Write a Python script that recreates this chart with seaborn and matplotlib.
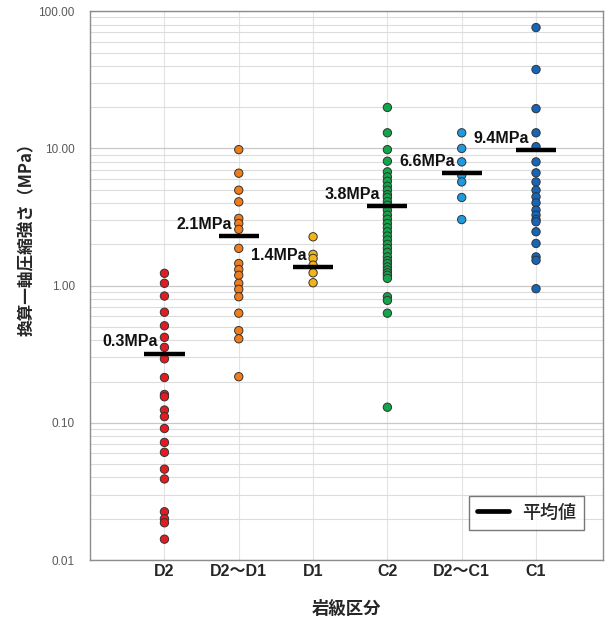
import matplotlib
matplotlib.use("Agg")
import matplotlib.pyplot as plt
import seaborn as sns
import pandas as pd
from matplotlib.lines import Line2D
from matplotlib.ticker import FixedLocator, LogLocator, NullFormatter

# ---- data ----
categories = ["D2", "D2～D1", "D1", "C2", "D2～C1", "C1"]
vals_D2 = [1.23, 1.04, 0.84, 0.64, 0.51, 0.42, 0.355, 0.293, 0.214, 0.161, 0.155,
           0.124, 0.111, 0.091, 0.072, 0.061, 0.046, 0.039, 0.0225, 0.020, 0.0187, 0.0142]
vals_D2D1 = [9.8, 6.6, 4.96, 4.08, 3.09, 2.84, 2.57, 1.87, 1.45, 1.31, 1.19, 1.04,
             0.94, 0.83, 0.63, 0.47, 0.41, 0.217]
vals_D1 = [2.27, 1.69, 1.58, 1.41, 1.24, 1.05]
vals_C2 = [19.9, 13.0, 9.8, 8.07, 6.75, 6.2, 5.77, 5.3, 4.96, 4.6, 4.39, 4.1, 3.86, 3.55,
           3.27, 3.05, 2.84, 2.65, 2.47, 2.3, 2.15, 2.0, 1.87, 1.75, 1.62, 1.52, 1.45,
           1.37, 1.30, 1.24, 1.19, 1.13, 0.83, 0.78, 0.63, 0.13]
vals_D2C1 = [13.0, 10.0, 7.98, 6.38, 5.70, 4.39, 3.03]
vals_C1 = [76.0, 37.6, 19.5, 13.0, 10.3, 7.98, 6.64, 5.70, 4.96, 4.44, 4.01, 3.55,
           3.27, 3.03, 2.92, 2.47, 2.03, 1.62, 1.53, 0.95]
mean_values = [0.32, 2.3, 1.37, 3.8, 6.6, 9.7]
mean_labels = ["0.3MPa", "2.1MPa", "1.4MPa", "3.8MPa", "6.6MPa", "9.4MPa"]
colors = ["#E31B23", "#F07D1A", "#F2B419", "#13A54A", "#1E9BE0", "#1565B8"]
ytick_vals = [0.01, 0.1, 1, 10, 100]
ytick_labels = ["0.01", "0.10", "1.00", "10.00", "100.00"]

all_vals = [vals_D2, vals_D2D1, vals_D1, vals_C2, vals_D2C1, vals_C1]
df = pd.DataFrame({
    "cat": [c for c, v in zip(categories, all_vals) for _ in v],
    "val": [x for v in all_vals for x in v],
})

sns.set_style("white")
plt.rcParams["font.family"] = ["Liberation Sans", "Noto Sans CJK JP", "DejaVu Sans"]
cjk = ["Noto Sans CJK JP", "DejaVu Sans"]

fig = plt.figure(figsize=(6.09, 6.23), dpi=100)
ax = fig.add_axes([0.148, 0.101, 0.842, 0.881])
ax.set_yscale("log")

sns.stripplot(data=df, x="cat", y="val", hue="cat", order=categories,
              hue_order=categories, palette=colors, jitter=False, size=6.0,
              linewidth=0.7, edgecolor="#333333", legend=False, ax=ax, zorder=3)

xs = list(range(len(categories)))
ax.hlines(mean_values, [x - 0.27 for x in xs], [x + 0.27 for x in xs],
          color="black", linewidth=3.2, zorder=4)

for x, m, lab in zip(xs, mean_values, mean_labels):
    ax.annotate(lab, xy=(x, m), xytext=(-5, 3), textcoords="offset points",
                ha="right", va="bottom", fontsize=11.5, fontweight="bold",
                color="#111111", zorder=5)

ax.set_xlim(-1.0, 5.9)
ax.set_ylim(0.01, 100)
ax.yaxis.set_major_locator(FixedLocator(ytick_vals))
ax.set_yticklabels(ytick_labels)
ax.yaxis.set_minor_locator(LogLocator(base=10, subs=range(2, 10)))
ax.yaxis.set_minor_formatter(NullFormatter())
ax.tick_params(axis="y", which="both", length=0, labelsize=8.5, labelcolor="#595959", pad=11)
ax.tick_params(axis="x", length=0, labelsize=11.5, pad=3)
for t in ax.get_xticklabels():
    t.set_fontweight("bold")

ax.grid(True, which="major", axis="y", color="#C8C8C8", linewidth=0.9, zorder=0)
ax.grid(True, which="minor", axis="y", color="#DCDCDC", linewidth=0.8, zorder=0)
ax.grid(True, which="major", axis="x", color="#E3E3E3", linewidth=0.8, zorder=0)
ax.set_axisbelow(True)

for s in ax.spines.values():
    s.set_color("#8C8C8C")
    s.set_linewidth(1.0)

ax.set_xlabel("岩級区分", fontsize=12.5, fontweight="bold", family=cjk)
ax.xaxis.set_label_coords(0.5, -0.072)
ax.set_ylabel("換算一軸圧縮強さ（MPa）", fontsize=12, fontweight="bold", family=cjk)
ax.yaxis.set_label_coords(-0.105, 0.592)

handle = Line2D([0], [0], color="black", linewidth=3.4)
leg = ax.legend([handle], ["平均値"], loc="lower right", bbox_to_anchor=(0.963, 0.055),
                borderaxespad=0, frameon=True, fancybox=False, handlelength=1.8,
                handletextpad=0.7, borderpad=0.45,
                prop={"family": cjk, "size": 13, "weight": "medium"})
leg.get_frame().set_edgecolor("#555555")
leg.get_frame().set_linewidth(1.0)

fig.savefig("out.png", dpi=100)
